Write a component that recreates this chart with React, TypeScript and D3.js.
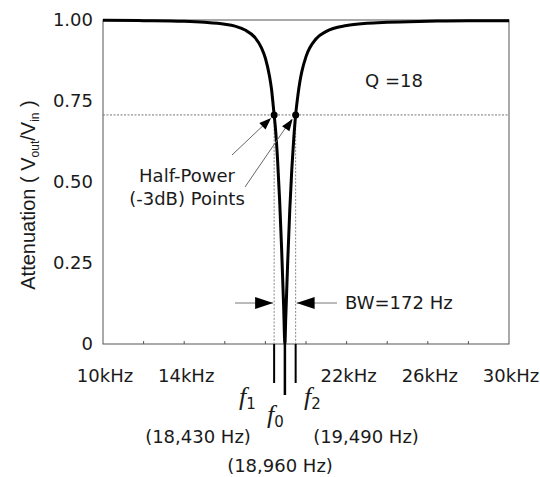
import React from "react";
import * as d3 from "d3";

// Curve samples (frequency in kHz, attenuation Vout/Vin)
const freqKHz = [10, 12, 14, 15, 16, 16.5, 17, 17.5, 17.8, 18, 18.2, 18.3, 18.43, 18.5, 18.6, 18.7, 18.8, 18.9, 18.96, 19.0, 19.1, 19.2, 19.3, 19.4, 19.49, 19.6, 19.7, 19.8, 20, 20.5, 21, 22, 23, 24, 26, 28, 30];
const attenuation = [0.999, 0.998, 0.996, 0.993, 0.987, 0.981, 0.969, 0.945, 0.915, 0.882, 0.827, 0.787, 0.707, 0.662, 0.568, 0.445, 0.292, 0.113, 0.0, 0.076, 0.256, 0.413, 0.539, 0.637, 0.707, 0.767, 0.81, 0.842, 0.887, 0.942, 0.965, 0.983, 0.99, 0.993, 0.996, 0.998, 0.998];

const xTicks = [12, 14, 16, 18, 20, 22, 24, 26, 28];
const xTickLabels = [
  { v: 10, t: "10kHz" },
  { v: 14, t: "14kHz" },
  { v: 22, t: "22kHz" },
  { v: 26, t: "26kHz" },
  { v: 30, t: "30kHz" },
];
const yTicks = [
  { v: 0, t: "0" },
  { v: 0.25, t: "0.25" },
  { v: 0.5, t: "0.50" },
  { v: 0.75, t: "0.75" },
  { v: 1.0, t: "1.00" },
];
const halfPower = 0.707;
const f1 = 18.43;
const f0 = 18.96;
const f2 = 19.49;

export default function App() {
  const left = 103, right = 509, top = 20, bottom = 344;
  const x = d3.scaleLinear().domain([10, 30]).range([left, right]);
  const y = d3.scaleLinear().domain([0, 1]).range([bottom, top]);
  const pts: [number, number][] = freqKHz.map((f, i) => [f, attenuation[i]]);
  const line = d3
    .line<[number, number]>()
    .x((d) => x(d[0]))
    .y((d) => y(d[1]))
    .curve(d3.curveMonotoneX);
  const font = "'DejaVu Sans', sans-serif";
  const txt = "#1a1a1a";
  const yHP = y(halfPower);

  // arrow helper (filled triangle head at tip)
  const arrowHead = (x1: number, y1: number, x2: number, y2: number, len: number, half: number) => {
    const a = Math.atan2(y2 - y1, x2 - x1);
    const bx = x2 - len * Math.cos(a);
    const by = y2 - len * Math.sin(a);
    const px = -Math.sin(a) * half;
    const py = Math.cos(a) * half;
    return `${x2},${y2} ${bx + px},${by + py} ${bx - px},${by - py}`;
  };

  return (
    <svg width={540} height={477} style={{ position: "absolute", left: 0, top: 0, background: "#fff" }}>
      {/* frame */}
      <rect x={left} y={top} width={right - left} height={bottom - top} fill="none" stroke="#555" strokeWidth={1} />
      {/* x ticks inside */}
      {xTicks.map((t) => (
        <line key={t} x1={x(t)} x2={x(t)} y1={bottom} y2={bottom - 3} stroke="#555" strokeWidth={1} />
      ))}
      {/* half-power dashed line */}
      <line x1={left} x2={right} y1={yHP} y2={yHP} stroke="#777" strokeWidth={1} strokeDasharray="2,1.5" />
      {/* dashed verticals */}
      {[f1, f2].map((f) => (
        <line key={f} x1={x(f)} x2={x(f)} y1={yHP} y2={bottom} stroke="#888" strokeWidth={1} strokeDasharray="2,1.5" />
      ))}
      {/* curve */}
      <path d={line(pts) || ""} fill="none" stroke="#000" strokeWidth={3} strokeLinejoin="round" />
      {/* half power dots */}
      {[f1, f2].map((f) => (
        <circle key={"c" + f} cx={x(f)} cy={yHP} r={3.5} fill="#000" />
      ))}
      {/* lines below axis */}
      <line x1={x(f1)} x2={x(f1)} y1={bottom} y2={383} stroke="#000" strokeWidth={2} />
      <line x1={x(f2)} x2={x(f2)} y1={bottom} y2={383} stroke="#000" strokeWidth={2} />
      <line x1={x(f0)} x2={x(f0)} y1={bottom - 4} y2={395} stroke="#000" strokeWidth={2.5} />

      {/* half-power arrows */}
      <line x1={232} y1={155} x2={x(f1) - 4} y2={yHP + 4} stroke="#666" strokeWidth={1} />
      <polygon points={arrowHead(232, 155, x(f1) - 3, yHP + 3, 12, 4.5)} fill="#000" />
      <line x1={245} y1={187} x2={x(f2) - 4} y2={yHP + 4} stroke="#666" strokeWidth={1} />
      <polygon points={arrowHead(245, 187, x(f2) - 3, yHP + 4, 12, 4.5)} fill="#000" />

      {/* BW arrows */}
      <line x1={235} y1={303} x2={x(f1) - 1} y2={303} stroke="#777" strokeWidth={1} />
      <polygon points={arrowHead(235, 303, x(f1) - 1, 303, 18, 6)} fill="#000" />
      <line x1={337} y1={303} x2={x(f2) + 1} y2={303} stroke="#777" strokeWidth={1} />
      <polygon points={arrowHead(337, 303, x(f2) + 1, 303, 18, 6)} fill="#000" />

      {/* y tick labels */}
      {yTicks.map((t) => (
        <text key={t.t} x={93} y={y(t.v)} dy="0.36em" textAnchor="end" fontFamily={font} fontSize={18} fill={txt}>
          {t.t}
        </text>
      ))}
      {/* x tick labels */}
      {xTickLabels.map((t) => (
        <text key={t.t} x={x(t.v) + 2} y={382} textAnchor="middle" fontFamily={font} fontSize={18} fill={txt}>
          {t.t}
        </text>
      ))}
      {/* y axis label */}
      <text
        transform="translate(35,195) rotate(-90)"
        textAnchor="middle"
        fontFamily="'Liberation Sans', Arial, sans-serif"
        fontSize={20}
        fill={txt}
      >
        Attenuation ( V<tspan fontSize={12} dy={4}>out</tspan>
        <tspan dy={-4}>/V</tspan>
        <tspan fontSize={12} dy={4}>in</tspan>
        <tspan dy={-4}> )</tspan>
      </text>

      {/* annotations */}
      <text x={365} y={87} fontFamily={font} fontSize={18} fill={txt}>Q =18</text>
      <text x={187} y={182} textAnchor="middle" fontFamily={font} fontSize={18} fill={txt}>Half-Power</text>
      <text x={187} y={205} textAnchor="middle" fontFamily={font} fontSize={18} fill={txt}>(-3dB) Points</text>
      <text x={345} y={309} fontFamily={font} fontSize={18} fill={txt}>BW=172 Hz</text>

      {/* f labels */}
      <text x={239} y={405} fontFamily="'Liberation Serif', 'Times New Roman', serif" fontStyle="italic" fontSize={26} fill={txt}>
        f<tspan fontStyle="normal" fontFamily={font} fontSize={15} dy={4}>1</tspan>
      </text>
      <text x={267} y={423} fontFamily="'Liberation Serif', 'Times New Roman', serif" fontStyle="italic" fontSize={26} fill={txt}>
        f<tspan fontStyle="normal" fontFamily={font} fontSize={15} dy={4}>0</tspan>
      </text>
      <text x={304} y={405} fontFamily="'Liberation Serif', 'Times New Roman', serif" fontStyle="italic" fontSize={26} fill={txt}>
        f<tspan fontStyle="normal" fontFamily={font} fontSize={15} dy={4}>2</tspan>
      </text>
      <text x={198} y={443} textAnchor="middle" fontFamily={font} fontSize={18} fill={txt}>(18,430 Hz)</text>
      <text x={366} y={443} textAnchor="middle" fontFamily={font} fontSize={18} fill={txt}>(19,490 Hz)</text>
      <text x={280} y={472} textAnchor="middle" fontFamily={font} fontSize={18} fill={txt}>(18,960 Hz)</text>
    </svg>
  );
}
